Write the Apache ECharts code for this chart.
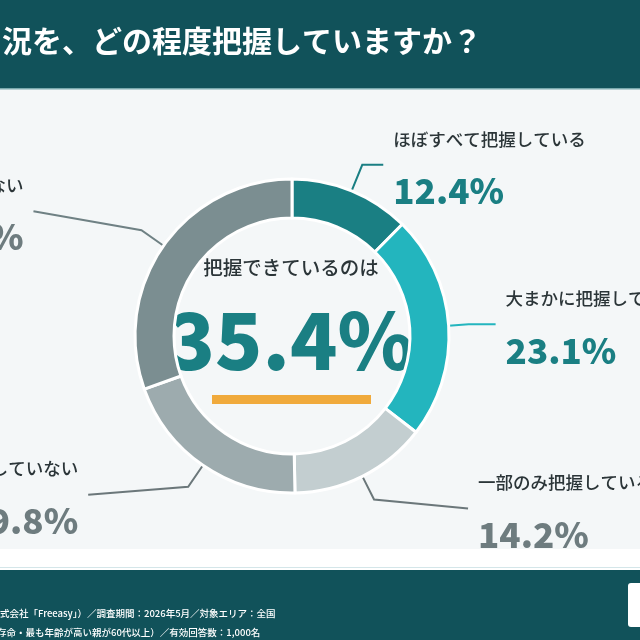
<!DOCTYPE html>
<html>
<head>
<meta charset="utf-8">
<script src="https://cdn.jsdelivr.net/npm/echarts@6/dist/echarts.min.js"></script>
<style>
html, body { margin: 0; padding: 0; background: #f4f7f8; }
#chart { width: 640px; height: 640px; }
</style>
</head>
<body>
<div id="chart"></div>
<script>
// data
const categories = ['ほぼすべて把握している', '大まかに把握している', '一部のみ把握している', 'ほとんど把握していない', '全く把握していない'];
const shares = [12.4, 23.1, 14.2, 19.8, 30.5];
const headline = '況を、どの程度把握していますか？';
const centerCaption = '把握できているのは';
const centerValue = '35.4%';
const footnotes = [
    '式会社「Freeasy」）／調査期間：2026年5月／対象エリア：全国',
    '存命・最も年齢が高い親が60代以上）／有効回答数：1,000名'
];

// styling
const sliceColors = ['#1a7f83', '#23b5be', '#c3ced0', '#9dabae', '#7b8e91'];
const lineColors = ['#1a7f83', '#23b5be', '#6b777a', '#6b777a', '#6f8184'];
const lineLens = [[28, 21], [20, 27], [26, 94], [26, 100], [27, 108]];
const lineTilt = [0, 0, 9, 8, -19];
const FONT = '"Noto Sans CJK JP", "Noto Sans", sans-serif';

const chart = echarts.init(document.getElementById('chart'));

const pieData = categories.map(function (name, i) {
    return {
        name: name,
        value: shares[i],
        itemStyle: { color: sliceColors[i] },
        labelLine: {
            length: lineLens[i][0],
            length2: lineLens[i][1],
            lineStyle: { color: lineColors[i] }
        }
    };
});

const option = {
    backgroundColor: '#f4f7f8',
    animation: false,
    graphic: [
        { type: 'rect', z: -5, shape: { x: 0, y: 0, width: 640, height: 88 }, style: { fill: '#11525a' } },
        { type: 'rect', z: -5, shape: { x: 0, y: 88, width: 640, height: 1.5 }, style: { fill: '#79a9ad' } },
        { type: 'rect', z: -5, shape: { x: 0, y: 549, width: 640, height: 21 }, style: { fill: '#ffffff' } },
        { type: 'rect', z: -5, shape: { x: 0, y: 567, width: 640, height: 1 }, style: { fill: '#d4e6e9' } },
        { type: 'rect', z: -5, shape: { x: 0, y: 570, width: 640, height: 70 }, style: { fill: '#11525a' } },
        { type: 'rect', z: -4, shape: { x: 628, y: 583, width: 24, height: 44, r: 3 }, style: { fill: '#ffffff' } },
        {
            type: 'text', x: 2, y: 41,
            style: { text: headline, fill: '#ffffff', font: 'bold 30px ' + FONT, textVerticalAlign: 'middle' }
        },
        {
            type: 'text', x: 0, y: 613,
            style: { text: footnotes[0], fill: '#ffffff', font: '500 9.5px ' + FONT, textVerticalAlign: 'middle' }
        },
        {
            type: 'text', x: -3, y: 632,
            style: { text: footnotes[1], fill: '#ffffff', font: '500 9.5px ' + FONT, textVerticalAlign: 'middle' }
        },
        {
            type: 'text', x: 291, y: 268,
            style: { text: centerCaption, fill: '#2b3538', font: '500 19.5px ' + FONT, textAlign: 'center', textVerticalAlign: 'middle' }
        },
        {
            type: 'text', x: 291, y: 340,
            style: { text: centerValue, fill: '#1a7f83', font: '900 78px ' + FONT, textAlign: 'center', textVerticalAlign: 'middle' }
        },
        { type: 'rect', shape: { x: 212, y: 395, width: 159, height: 9 }, style: { fill: '#f0aa3c' } }
    ],
    series: [{
        type: 'pie',
        silent: true,
        center: [292, 336],
        radius: [118, 157],
        startAngle: 90,
        clockwise: true,
        avoidLabelOverlap: false,
        itemStyle: { borderColor: '#ffffff', borderWidth: 3 },
        label: {
            show: true,
            position: 'outside',
            distanceToLabelLine: 10,
            formatter: function (p) {
                const key = p.dataIndex < 2 ? 'vt' : 'vg';
                return '{n|' + p.name + '}\n{' + key + '|' + p.value + '%}';
            },
            rich: {
                n: { fontFamily: FONT, fontSize: 17.5, fontWeight: 500, color: '#2b3538', lineHeight: 52 },
                vt: { fontFamily: FONT, fontSize: 35, fontWeight: 900, color: '#1a7f83', lineHeight: 52 },
                vg: { fontFamily: FONT, fontSize: 35, fontWeight: 900, color: '#6e7c7f', lineHeight: 52 }
            }
        },
        labelLine: { show: true, smooth: false, lineStyle: { width: 2 } },
        labelLayout: function (p) {
            const dy = lineTilt[p.dataIndex];
            if (!dy || !p.labelLinePoints) return {};
            const pts = p.labelLinePoints.map(function (q) { return q.slice(); });
            pts[2][1] += dy;
            return { dy: dy, labelLinePoints: pts };
        },
        data: pieData
    }]
};

chart.setOption(option);
</script>
</body>
</html>
